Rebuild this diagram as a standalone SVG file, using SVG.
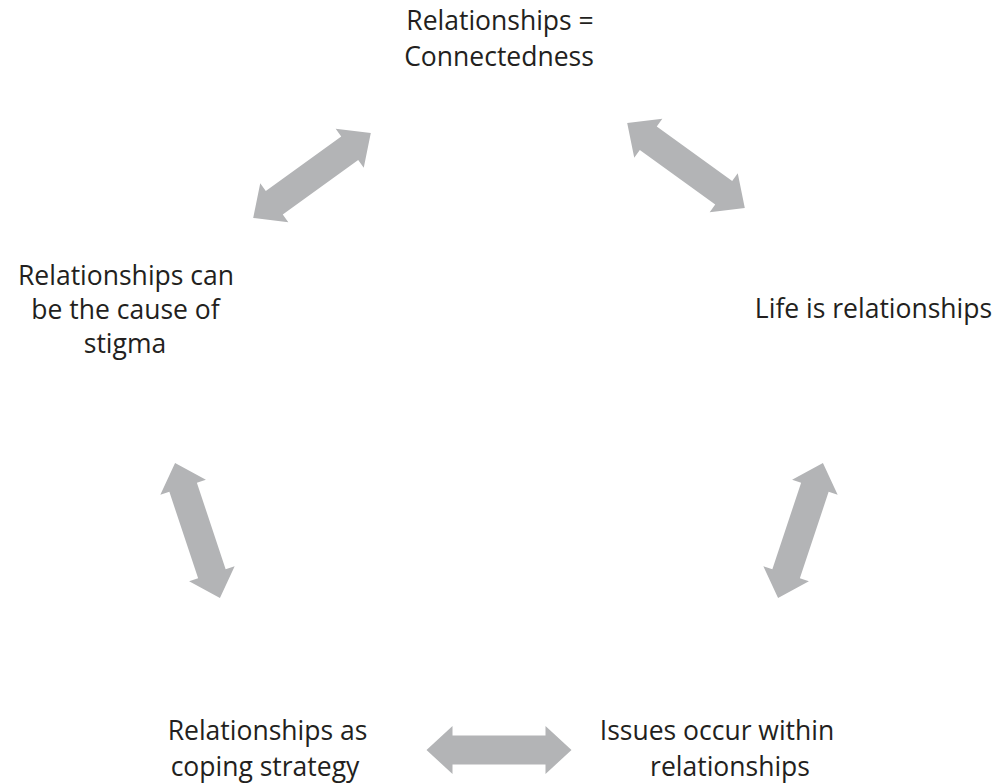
<svg xmlns="http://www.w3.org/2000/svg" xmlns:xlink="http://www.w3.org/1999/xlink" width="1006" height="784" viewBox="0 0 1006 784">
<style>
text{font-family:"Open Sans","Liberation Sans",sans-serif;font-size:26.5px;fill:#231f20;text-anchor:middle}
.arr{fill:#b3b4b6}
</style>
<defs>
<polygon id="dbl" class="arr" points="-72.5,0 -46.5,-24 -46.5,-14.5 46.5,-14.5 46.5,-24 72.5,0 46.5,24 46.5,14.5 -46.5,14.5 -46.5,24"/>
</defs>
<rect width="1006" height="784" fill="#fff"/>
<g id="connectors">
<use xlink:href="#dbl" href="#dbl" transform="translate(499,750)"/>
<use xlink:href="#dbl" href="#dbl" transform="translate(312,175.5) rotate(-35.8)"/>
<use xlink:href="#dbl" href="#dbl" transform="translate(686,165.5) rotate(35.8)"/>
<use xlink:href="#dbl" href="#dbl" transform="translate(197.5,530.5) rotate(71.6) scale(0.98,1)"/>
<use xlink:href="#dbl" href="#dbl" transform="translate(800.5,530.5) rotate(-71.6) scale(0.98,1)"/>
</g>
<g id="node-top">
<text x="500" y="30">Relationships =</text>
<text x="499" y="66">Connectedness</text>
</g>
<g id="node-right">
<text x="873.5" y="318">Life is relationships</text>
</g>
<g id="node-bottom-right">
<text x="717" y="740">Issues occur within</text>
<text x="730" y="776">relationships</text>
</g>
<g id="node-bottom-left">
<text x="267.5" y="740">Relationships as</text>
<text x="265" y="776">coping strategy</text>
</g>
<g id="node-left">
<text x="126" y="285">Relationships can</text>
<text x="125.5" y="319">be the cause of</text>
<text x="125" y="353">stigma</text>
</g>
</svg>
